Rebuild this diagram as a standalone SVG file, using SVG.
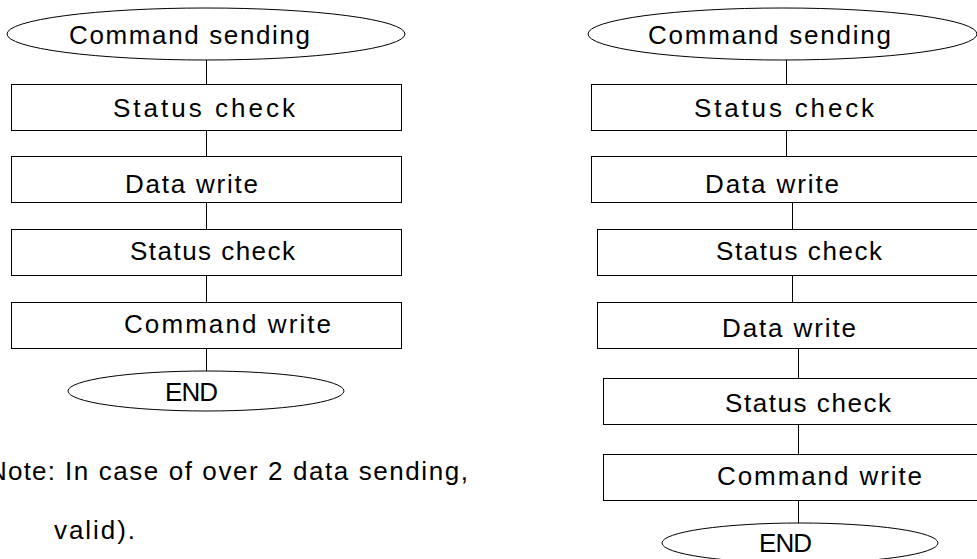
<svg xmlns="http://www.w3.org/2000/svg" width="977" height="559" viewBox="0 0 977 559">
<style>
.s{fill:#fff;stroke:#000;stroke-width:1}
.t{font-family:"Liberation Sans",Arial,sans-serif;font-size:26px;fill:#000}
.c line{stroke:#000;stroke-width:1}
</style>
<rect width="977" height="559" fill="#fff"/>
<g class="c" id="connectors">
<line x1="206.5" y1="60" x2="206.5" y2="84"/>
<line x1="206.5" y1="130" x2="206.5" y2="156"/>
<line x1="206.5" y1="202" x2="206.5" y2="229"/>
<line x1="206.5" y1="275" x2="206.5" y2="302"/>
<line x1="206.5" y1="348" x2="206.5" y2="371"/>
<line x1="786.5" y1="60" x2="786.5" y2="84"/>
<line x1="786.5" y1="130" x2="786.5" y2="156"/>
<line x1="792.5" y1="202" x2="792.5" y2="229"/>
<line x1="792.5" y1="275" x2="792.5" y2="302"/>
<line x1="798.5" y1="348" x2="798.5" y2="378"/>
<line x1="798.5" y1="424" x2="798.5" y2="454"/>
<line x1="798.5" y1="500" x2="798.5" y2="523"/>
</g>
<g id="L_start"><ellipse class="s" cx="206" cy="34" rx="199" ry="26"/><text class="t" x="69" y="44" textLength="241" lengthAdjust="spacing">Command sending</text></g>
<g id="L_status1"><rect class="s" x="11.5" y="84.5" width="390" height="46"/><text class="t" x="113" y="117" textLength="182" lengthAdjust="spacing">Status check</text></g>
<g id="L_data"><rect class="s" x="11.5" y="156.5" width="390" height="46"/><text class="t" x="125" y="193" textLength="133" lengthAdjust="spacing">Data write</text></g>
<g id="L_status2"><rect class="s" x="11.5" y="229.5" width="390" height="46"/><text class="t" x="130" y="260" textLength="165" lengthAdjust="spacing">Status check</text></g>
<g id="L_cmd"><rect class="s" x="11.5" y="302.5" width="390" height="46"/><text class="t" x="124" y="333" textLength="207" lengthAdjust="spacing">Command write</text></g>
<g id="L_end"><ellipse class="s" cx="206" cy="391" rx="138" ry="20"/><text class="t" x="165" y="401" textLength="53" lengthAdjust="spacing">END</text></g>
<g id="note">
<text class="t" x="-12" y="480" textLength="67" lengthAdjust="spacing">Note:</text>
<text class="t" x="65" y="480" textLength="403" lengthAdjust="spacing">In case of over 2 data sending,</text>
<text class="t" x="54" y="539" textLength="81" lengthAdjust="spacing">valid).</text>
</g>
<g id="R_start"><ellipse class="s" cx="782.5" cy="34" rx="194.5" ry="26"/><text class="t" x="648" y="44" textLength="243" lengthAdjust="spacing">Command sending</text></g>
<g id="R_status1"><rect class="s" x="591.5" y="84.5" width="400" height="46"/><text class="t" x="694" y="117" textLength="180" lengthAdjust="spacing">Status check</text></g>
<g id="R_data1"><rect class="s" x="591.5" y="156.5" width="400" height="46"/><text class="t" x="705" y="193" textLength="134" lengthAdjust="spacing">Data write</text></g>
<g id="R_status2"><rect class="s" x="597.5" y="229.5" width="400" height="46"/><text class="t" x="716" y="260" textLength="166" lengthAdjust="spacing">Status check</text></g>
<g id="R_data2"><rect class="s" x="597.5" y="302.5" width="400" height="46"/><text class="t" x="722" y="337" textLength="134" lengthAdjust="spacing">Data write</text></g>
<g id="R_status3"><rect class="s" x="603.5" y="378.5" width="400" height="46"/><text class="t" x="725" y="412" textLength="166" lengthAdjust="spacing">Status check</text></g>
<g id="R_cmd"><rect class="s" x="603.5" y="454.5" width="400" height="46"/><text class="t" x="717" y="485" textLength="205" lengthAdjust="spacing">Command write</text></g>
<g id="R_end"><ellipse class="s" cx="800" cy="543" rx="138" ry="20"/><text class="t" x="759" y="552" textLength="53" lengthAdjust="spacing">END</text></g>
</svg>
